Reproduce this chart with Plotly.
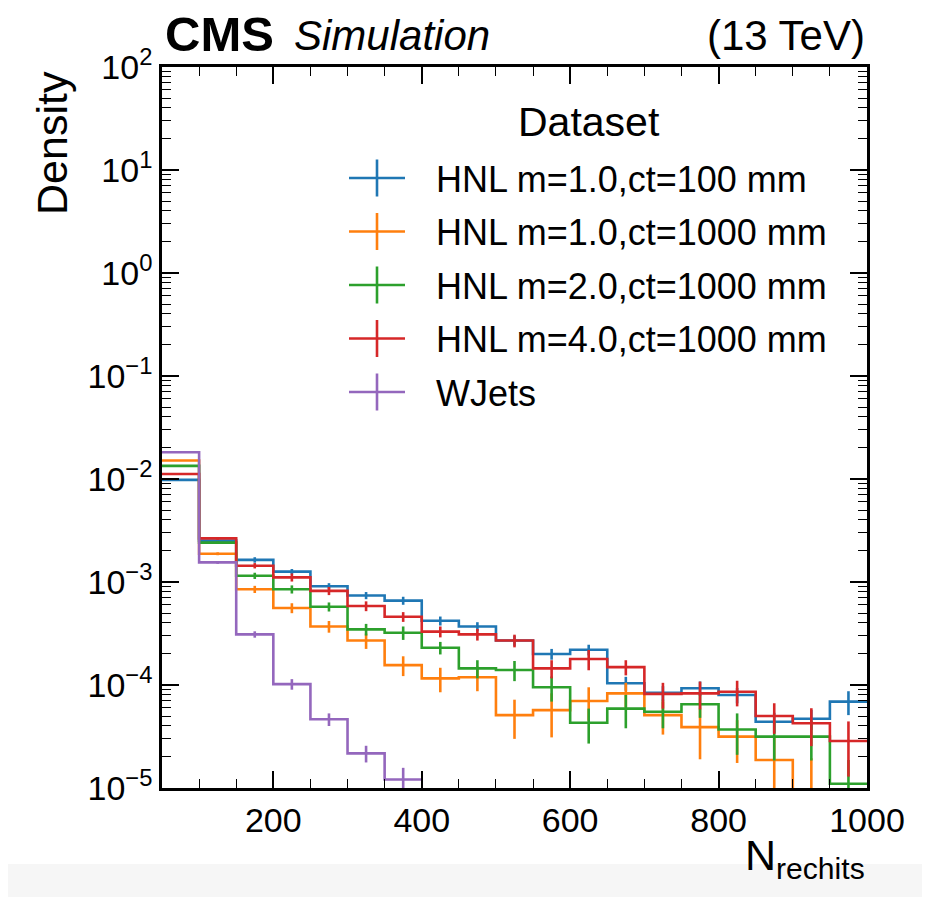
import plotly.graph_objects as go

# ---------------- data ----------------
bin_edges = [50, 100, 150, 200, 250, 300, 350, 400, 450, 500, 550, 600, 650,
             700, 750, 800, 850, 900, 950, 1000]

series_names = ["HNL m=1.0,ct=100 mm", "HNL m=1.0,ct=1000 mm", "HNL m=2.0,ct=1000 mm",
                "HNL m=4.0,ct=1000 mm", "WJets"]
series_colors = ["#1f77b4", "#ff7f0e", "#2ca02c", "#d62728", "#9467bd"]

hnl_m1_ct100 = [0.0098, 0.00252, 0.00164, 0.00126, 0.00091, 0.00074, 0.00066, 0.00042,
                0.00037, 0.00027, 0.00020, 0.00022, 0.000104, 0.000084, 0.000093,
                0.000080, 0.000044, 0.000047, 0.000069]
hnl_m1_ct100_err = [0.0001, 0.00005, 0.0001, 0.000076, 0.000064, 0.000059, 0.000059,
                    0.000042, 0.000037, 0.00003, 0.000024, 0.000026, 0.000016, 0.0000134,
                    0.000015, 0.0000136, 0.0000097, 0.0000103, 0.000018]

hnl_m1_ct1000 = [0.0151, 0.00188, 0.00085, 0.00056, 0.00037, 0.00027, 0.000156, 0.000116,
                 0.000119, 0.000051, 0.000057, 0.000070, 0.000083, 0.000051, 0.000039,
                 0.0000315, 0.0000187, 0.0000097, 0.0]
hnl_m1_ct1000_err = [0.00015, 0.00006, 0.000068, 0.000062, 0.000048, 0.000046, 0.000034,
                     0.000031, 0.000032, 0.000021, 0.000026, 0.000025, 0.000022, 0.000018,
                     0.00002, 0.000014, 0.000012, 0.0000097, 0.0]

hnl_m2_ct1000 = [0.0134, 0.00241, 0.00115, 0.00085, 0.000575, 0.000347, 0.000322, 0.000230,
                 0.000145, 0.000140, 0.000095, 0.000043, 0.000059, 0.000055, 0.000065,
                 0.000037, 0.0000315, 0.0000315, 0.000011]
hnl_m2_ct1000_err = [0.00013, 0.00007, 0.00008, 0.000077, 0.000058, 0.000045, 0.000048,
                     0.000032, 0.000029, 0.000031, 0.000026, 0.000016, 0.000021, 0.000017,
                     0.000017, 0.000016, 0.000013, 0.000013, 0.0000077]

hnl_m4_ct1000 = [0.0112, 0.00265, 0.00144, 0.00111, 0.00082, 0.000585, 0.00046, 0.00033,
                 0.00031, 0.00027, 0.000145, 0.000179, 0.000149, 0.000082, 0.000083,
                 0.000086, 0.000050, 0.0000425, 0.0000286]
hnl_m4_ct1000_err = [0.00011, 0.00008, 0.000086, 0.0001, 0.000074, 0.000064, 0.00005,
                     0.00004, 0.00004, 0.000038, 0.000029, 0.00004, 0.000025, 0.000023,
                     0.000025, 0.000024, 0.0000165, 0.000017, 0.0000157]

wjets = [0.0182, 0.00155, 0.00031, 0.000102, 0.0000465, 0.0000217, 0.0000121,
         0, 0, 0, 0, 0, 0, 0, 0, 0, 0, 0, 0]
wjets_err = [0.00018, 0.00005, 0.000022, 0.000012, 0.0000065, 0.000004, 0.0000036,
             0, 0, 0, 0, 0, 0, 0, 0, 0, 0, 0, 0]

y_tick_vals = [1e-5, 1e-4, 1e-3, 1e-2, 1e-1, 1e0, 1e1, 1e2]
y_tick_text = ["10<sup>\u22125</sup>", "10<sup>\u22124</sup>", "10<sup>\u22123</sup>",
               "10<sup>\u22122</sup>", "10<sup>\u22121</sup>", "10<sup>0</sup>",
               "10<sup>1</sup>", "10<sup>2</sup>"]
x_tick_vals = [200, 400, 600, 800, 1000]

# ---------------- layout geometry (page pixels) ----------------
PAGE_W, PAGE_H = 930, 897
OFF = 8                       # default body margin of the html page
W, H = PAGE_W - OFF, PAGE_H - OFF
L, R, T, B = 162, 867, 67, 788   # plot area in page pixels
FONT = "Liberation Sans, Arial, Helvetica, sans-serif"


def fx(px):
    return (px - L) / (R - L)


def fy(py):
    return (B - py) / (B - T)


fig = go.Figure()

all_vals = [hnl_m1_ct100, hnl_m1_ct1000, hnl_m2_ct1000, hnl_m4_ct1000, wjets]
all_errs = [hnl_m1_ct100_err, hnl_m1_ct1000_err, hnl_m2_ct1000_err, hnl_m4_ct1000_err, wjets_err]

centers = [(bin_edges[i] + bin_edges[i + 1]) / 2 for i in range(len(bin_edges) - 1)]

LW = 2.6
for vals, errs, color, name in zip(all_vals, all_errs, series_colors, series_names):
    last = max(i for i, v in enumerate(vals) if v > 0)
    ys = [v if v > 0 else None for v in vals]
    if last == len(vals) - 1:
        xs = bin_edges[:]
        ys_step = ys + [ys[-1]]
    else:
        xs = bin_edges[:last + 2]
        ys_step = ys[:last + 1] + [ys[last]]
    fig.add_trace(go.Scatter(
        x=xs, y=ys_step, mode="lines", line=dict(color=color, width=LW, shape="hv"),
        name=name, showlegend=False, hoverinfo="skip"))
    cx = [c for c, v in zip(centers, vals) if v > 0]
    cy = [v for v in vals if v > 0]
    ce = [e for e, v in zip(errs, vals) if v > 0]
    fig.add_trace(go.Scatter(
        x=cx, y=cy, mode="markers", marker=dict(size=1, color=color, opacity=0),
        error_y=dict(type="data", array=ce, visible=True, color=color, thickness=LW, width=0),
        showlegend=False, hoverinfo="skip"))

minor_vals = []
for d in range(-5, 2):
    for k in range(2, 10):
        minor_vals.append(k * 10 ** d)

fig.update_xaxes(
    range=[50, 1000], showline=True, linewidth=2.5, linecolor="black", mirror="allticks",
    ticks="inside", ticklen=17, tickwidth=1.5, tickcolor="black",
    tickmode="array", tickvals=x_tick_vals, showgrid=False, zeroline=False,
    tickfont=dict(family=FONT, size=34, color="black"),
    minor=dict(ticks="inside", ticklen=9, tickwidth=1.2, tickcolor="black", dtick=50, tick0=0,
               showgrid=False),
)
fig.update_yaxes(
    type="log", range=[-5, 2], showline=True, linewidth=2.5, linecolor="black", mirror="allticks",
    ticks="inside", ticklen=17, tickwidth=1.5, tickcolor="black",
    tickmode="array", tickvals=y_tick_vals, ticktext=y_tick_text, showgrid=False, zeroline=False,
    tickfont=dict(family=FONT, size=34, color="black"),
    minor=dict(ticks="inside", ticklen=9, tickwidth=1.2, tickcolor="black",
               tickmode="array", tickvals=minor_vals, showgrid=False),
)

shapes = []
annotations = []

# light grey band at the bottom/right of the picture
shapes.append(dict(type="rect", xref="paper", yref="paper", layer="below",
                   x0=fx(0), x1=fx(940), y0=fy(905), y1=fy(864),
                   fillcolor="#f6f6f6", line=dict(width=0)))
shapes.append(dict(type="rect", xref="paper", yref="paper", layer="below",
                   x0=fx(922), x1=fx(940), y0=fy(905), y1=fy(0),
                   fillcolor="#f6f6f6", line=dict(width=0)))

# manual legend
annotations.append(dict(text="Dataset", x=fx(589), y=fy(122), xref="paper", yref="paper",
                        xanchor="center", yanchor="middle", showarrow=False,
                        font=dict(family=FONT, size=41, color="black")))
for i, (name, color) in enumerate(zip(series_names, series_colors)):
    yc = 178 + 53.5 * i
    shapes.append(dict(type="line", xref="paper", yref="paper",
                       x0=fx(349), x1=fx(405), y0=fy(yc), y1=fy(yc),
                       line=dict(color=color, width=LW)))
    shapes.append(dict(type="line", xref="paper", yref="paper",
                       x0=fx(377), x1=fx(377), y0=fy(yc - 18.5), y1=fy(yc + 18.5),
                       line=dict(color=color, width=LW)))
    annotations.append(dict(text=name, x=fx(434), y=fy(yc + 1), xref="paper", yref="paper",
                            xanchor="left", yanchor="middle", showarrow=False,
                            font=dict(family=FONT, size=36, color="black")))

# CMS labels
annotations.append(dict(text="<b>CMS</b>", x=fx(163), y=fy(34), xref="paper", yref="paper",
                        xanchor="left", yanchor="middle", showarrow=False,
                        font=dict(family=FONT, size=49, color="black")))
annotations.append(dict(text="<i>Simulation</i>", x=fx(292), y=fy(35), xref="paper", yref="paper",
                        xanchor="left", yanchor="middle", showarrow=False,
                        font=dict(family=FONT, size=42, color="black")))
annotations.append(dict(text="(13 TeV)", x=fx(867), y=fy(35), xref="paper", yref="paper",
                        xanchor="right", yanchor="middle", showarrow=False,
                        font=dict(family=FONT, size=42, color="black")))

# axis titles
annotations.append(dict(text="Density", x=fx(52), y=fy(143), xref="paper", yref="paper",
                        xanchor="center", yanchor="middle", textangle=-90, showarrow=False,
                        font=dict(family=FONT, size=43, color="black")))
annotations.append(dict(text="N<sub>rechits</sub>", x=fx(867), y=fy(858), xref="paper", yref="paper",
                        xanchor="right", yanchor="middle", showarrow=False,
                        font=dict(family=FONT, size=43, color="black")))

fig.update_layout(
    width=W, height=H, autosize=False,
    margin=dict(l=L - OFF, r=W - (R - OFF), t=T - OFF, b=H - (B - OFF), pad=0),
    paper_bgcolor="white", plot_bgcolor="white",
    showlegend=False, shapes=shapes, annotations=annotations,
    font=dict(family=FONT, color="black"),
)

fig.write_html("out.html")
